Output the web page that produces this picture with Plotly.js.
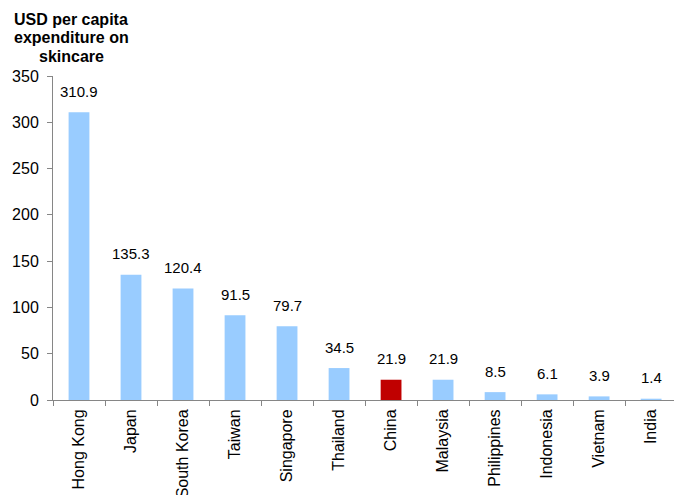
<!DOCTYPE html>
<html>
<head>
<meta charset="utf-8">
<script src="https://cdn.plot.ly/plotly-3.0.1.min.js"></script>
<style>
html,body{margin:0;padding:0;background:#fff;}
#chart{width:674px;height:495px;}
</style>
</head>
<body>
<div id="chart"></div>
<script>
const countries = ["Hong Kong","Japan","South Korea","Taiwan","Singapore","Thailand","China","Malaysia","Philippines","Indonesia","Vietnam","India"];
const spend = [310.9,135.3,120.4,91.5,79.7,34.5,21.9,21.9,8.5,6.1,3.9,1.4];
const highlight = "China";
const yTitleLines = ["USD per capita","expenditure on","skincare"];

const FONT = "Liberation Sans, Arial, sans-serif";
const colors = countries.map(c => c === highlight ? "#C00000" : "#99CCFF");

const labelAnn = countries.map((c, i) => ({
  x: c, y: spend[i], xref: "x", yref: "y",
  text: spend[i].toFixed(1), showarrow: false,
  xanchor: "center", yanchor: "middle",
  yshift: 21, font: {family: FONT, size: 15, color: "#000"}
}));

const titleShifts = [57, 38.5, 20];
const titleAnn = yTitleLines.map((t, i) => ({
  text: "<b>" + t + "</b>", xref: "paper", yref: "paper",
  x: 0, xshift: 18, y: 1, yshift: titleShifts[i],
  xanchor: "center", yanchor: "middle", showarrow: false,
  font: {family: FONT, size: 16, color: "#000"}
}));

const data = [{
  type: "bar", x: countries, y: spend,
  marker: {color: colors, line: {width: 0}},
  width: 0.4, hoverinfo: "none"
}];

const layout = {
  width: 674, height: 495,
  margin: {l: 53, r: 0, t: 76, b: 95, pad: 0},
  paper_bgcolor: "#fff", plot_bgcolor: "#fff",
  showlegend: false,
  font: {family: FONT, size: 14, color: "#000"},
  xaxis: {
    type: "category", range: [-0.5, 11.44],
    tickson: "boundaries", ticks: "outside", ticklen: 5, tickcolor: "#868686",
    showline: true, linecolor: "#868686", linewidth: 1,
    tickangle: -90, tickfont: {size: 16}, showgrid: false, zeroline: false,
    ticklabelstandoff: 2
  },
  yaxis: {
    range: [0, 350], dtick: 50, ticks: "outside", ticklen: 5, tickcolor: "#868686",
    showline: true, linecolor: "#868686", linewidth: 1,
    showgrid: false, zeroline: false, tickfont: {size: 16}, ticklabelstandoff: 5
  },
  annotations: labelAnn.concat(titleAnn)
};

Plotly.newPlot("chart", data, layout, {displayModeBar: false, staticPlot: true});
</script>
</body>
</html>
